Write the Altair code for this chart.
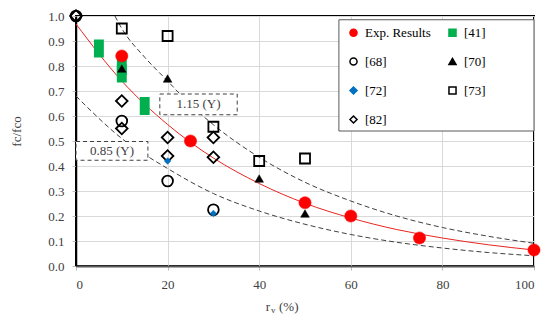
import altair as alt
import pandas as pd

# ---------------- data ----------------
series_order = ["Exp. Results", "[41]", "[68]", "[70]", "[72]", "[73]", "[82]"]

exp_x = [10, 25, 50, 60, 75, 100]
exp_y = [0.84, 0.50, 0.253, 0.20, 0.112, 0.064]
r41_x = [5, 10, 10, 15]
r41_y = [0.87, 0.80, 0.77, 0.64]
r68_x = [0, 10, 20, 30]
r68_y = [1.0, 0.58, 0.34, 0.225]
r70_x = [10, 20, 40, 50]
r70_y = [0.79, 0.75, 0.35, 0.21]
r72_x = [20, 30]
r72_y = [0.42, 0.21]
r73_x = [10, 20, 30, 40, 50]
r73_y = [0.95, 0.92, 0.557, 0.42, 0.43]
r82_x = [0, 10, 10, 20, 20, 30, 30]
r82_y = [1.0, 0.66, 0.55, 0.514, 0.44, 0.514, 0.435]

# fitted curves
fit_x = [0, 10, 20, 30, 40, 50, 60, 70, 80, 90, 100]
fit_y = [0.968, 0.74, 0.566, 0.432, 0.33, 0.251, 0.192, 0.146, 0.112, 0.085, 0.064]
up_x = [8.5, 10, 15, 20, 25, 30, 40, 50, 60, 70, 80, 90, 100]
up_y = [1.0, 0.95, 0.835, 0.74, 0.645, 0.565, 0.435, 0.335, 0.26, 0.20, 0.154, 0.119, 0.091]
lo_x = [0, 10, 20, 30, 40, 50, 60, 70, 80, 90, 100]
lo_y = [0.68, 0.51, 0.39, 0.29, 0.22, 0.167, 0.126, 0.095, 0.072, 0.054, 0.041]

# annotation boxes (data coordinates)
box_labels = ["1.15 (Y)", "0.85 (Y)"]
box_x1 = [18.3, 0.0]
box_x2 = [35.2, 15.7]
box_y1 = [0.605, 0.423]
box_y2 = [0.688, 0.498]
legend_box_x = [57.4, 100.0]
legend_box_y = [0.54, 0.985]

fill_range = ["#FF0000", "#00B050", "transparent", "#000000", "#0070C0", "transparent", "transparent"]
stroke_range = ["#FF0000", "#00B050", "#000000", "#000000", "#0070C0", "#000000", "#000000"]
shape_range = ["circle", "square", "circle", "triangle-up", "diamond", "square", "diamond"]
marker_size = {"Exp. Results": 150, "[41]": 40, "[68]": 115, "[70]": 75,
               "[72]": 45, "[73]": 100, "[82]": 135}
marker_sw = {"Exp. Results": 0.5, "[41]": 0.5, "[68]": 1.8, "[70]": 0.5,
             "[72]": 0.5, "[73]": 1.8, "[82]": 1.8}

FONT = "Liberation Serif"
TXT = "#404040"

# ---------------- build tables ----------------
rows = []
draw_order = [("[41]", r41_x, r41_y), ("[68]", r68_x, r68_y), ("[73]", r73_x, r73_y),
              ("[82]", r82_x, r82_y), ("[70]", r70_x, r70_y), ("[72]", r72_x, r72_y),
              ("Exp. Results", exp_x, exp_y)]
for name, xs_, ys_ in draw_order:
    for x, y in zip(xs_, ys_):
        rows.append({"series": name, "x": x, "y": y,
                     "sz": marker_size[name], "sw": marker_sw[name]})
pts = pd.DataFrame(rows)
green = pd.DataFrame({"x": r41_x, "y": r41_y})
fit = pd.DataFrame({"x": fit_x, "y": fit_y})
up = pd.DataFrame({"x": up_x, "y": up_y})
lo = pd.DataFrame({"x": lo_x, "y": lo_y})
boxes = pd.DataFrame({"label": box_labels, "x": box_x1, "x2": box_x2, "y": box_y1, "y2": box_y2})
boxes["xm"] = (boxes.x + boxes.x2) / 2
boxes["ym"] = (boxes.y + boxes.y2) / 2
lbox = pd.DataFrame({"x": [legend_box_x[0]], "x2": [legend_box_x[1]],
                     "y": [legend_box_y[0]], "y2": [legend_box_y[1]]})

xs = alt.Scale(domain=[0, 100], nice=False)
ys = alt.Scale(domain=[0, 1], nice=False)

x_axis = alt.Axis(
    values=[0, 20, 40, 60, 80, 100], title=None, tickSize=4, tickColor="#bfbfbf",
    domainColor="#595959", domainWidth=2, labelFont=FONT, labelFontSize=13,
    labelColor=TXT, labelPadding=8, gridColor="#D9D9D9")
y_axis = alt.Axis(
    values=[round(i * 0.1, 1) for i in range(11)], format=".1f", title="fc/fco",
    tickSize=4, tickColor="#bfbfbf", domainColor="#000000", domainWidth=1.5,
    labelFont=FONT, labelFontSize=13, labelColor=TXT, labelPadding=8,
    titleFont=FONT, titleFontSize=13, titleFontWeight="normal", titleColor=TXT,
    titlePadding=24, titleY=115, gridColor="#D9D9D9")


def X(field="x"):
    return alt.X(f"{field}:Q", scale=xs, axis=x_axis)


def Y(field="y"):
    return alt.Y(f"{field}:Q", scale=ys, axis=y_axis)


fit_line = alt.Chart(fit).mark_line(color="#E8251F", strokeWidth=1, interpolate="monotone").encode(
    x=X(), y=Y())
up_line = alt.Chart(up).mark_line(color="#404040", strokeWidth=1, strokeDash=[5, 3],
                                  interpolate="monotone").encode(x=X(), y=Y())
lo_line = alt.Chart(lo).mark_line(color="#404040", strokeWidth=1, strokeDash=[5, 3],
                                  interpolate="monotone").encode(x=X(), y=Y())

legend_frame = alt.Chart(lbox).mark_rect(fill="white", stroke="#595959", strokeWidth=1).encode(
    x=X(), x2="x2:Q", y=Y(), y2="y2:Q")

green_rects = alt.Chart(green).mark_point(
    shape="M-0.55,-1H0.55V1H-0.55Z", filled=True, color="#00B050", size=324, opacity=1
).encode(x=X(), y=Y())

sc = dict(domain=series_order)
points = alt.Chart(pts).mark_point(filled=True, opacity=1).encode(
    x=X(), y=Y(),
    shape=alt.Shape("series:N", scale=alt.Scale(range=shape_range, **sc),
                    legend=alt.Legend(title=None, orient="none", legendX=271, legendY=10,
                                      direction="horizontal",
                                      columns=2, columnPadding=14, rowPadding=14,
                                      symbolSize=50, symbolStrokeWidth=1.5,
                                      labelFont=FONT, labelFontSize=13, labelColor="#000000",
                                      padding=0, labelOffset=5, zindex=2)),
    fill=alt.Fill("series:N", scale=alt.Scale(range=fill_range, **sc)),
    stroke=alt.Stroke("series:N", scale=alt.Scale(range=stroke_range, **sc)),
    size=alt.Size("sz:Q", scale=None, legend=None),
    strokeWidth=alt.StrokeWidth("sw:Q", scale=None, legend=None),
)

box_rects = alt.Chart(boxes).mark_rect(fill="white", stroke="#404040", strokeWidth=1,
                                       strokeDash=[4, 3]).encode(
    x=X(), x2="x2:Q", y=Y(), y2="y2:Q")
box_text = alt.Chart(boxes).mark_text(font=FONT, fontSize=13, color=TXT).encode(
    x=X("xm"), y=Y("ym"), text="label:N")

# x-axis title "r_v (%)" with a real subscript, placed below the axis
xt = pd.DataFrame({"t": ["x"]})
title_r = alt.Chart(xt).mark_text(font=FONT, fontSize=13, color=TXT, align="right",
                                  text="r").encode(x=alt.value(194), y=alt.value(291))
title_v = alt.Chart(xt).mark_text(font=FONT, fontSize=9, color=TXT, align="left",
                                  text="v").encode(x=alt.value(195), y=alt.value(294))
title_p = alt.Chart(xt).mark_text(font=FONT, fontSize=13, color=TXT, align="left",
                                  text="(%)").encode(x=alt.value(203), y=alt.value(291))

chart = alt.layer(
    fit_line, up_line, lo_line, box_rects, box_text, legend_frame,
    green_rects, points, title_r, title_v, title_p
).properties(
    width=458, height=250,
    autosize=alt.AutoSizeParams(type="none"),
    padding={"left": 68, "top": 8, "right": 8, "bottom": 50},
).configure_view(stroke="#000000", strokeWidth=2)

chart.save("out.html", embed_options={"renderer": "svg", "actions": False})
